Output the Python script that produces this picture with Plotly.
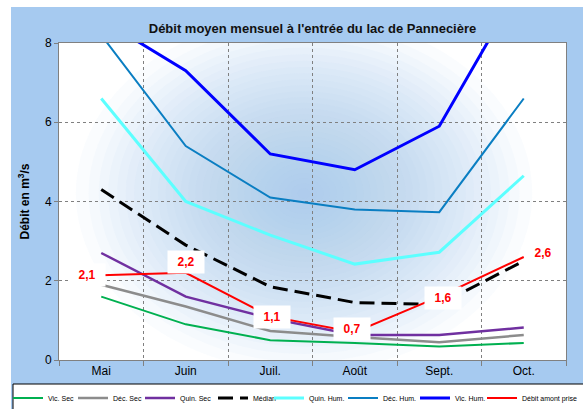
import plotly.graph_objects as go

# ---------------- data ----------------
months = ["Mai", "Juin", "Juil.", "Août", "Sept.", "Oct."]
vic_sec = [1.6, 0.9, 0.5, 0.43, 0.34, 0.43]
dec_sec = [1.9, 1.35, 0.73, 0.58, 0.45, 0.63]
quin_sec = [2.7, 1.6, 1.05, 0.63, 0.63, 0.82]
median = [4.3, 2.9, 1.85, 1.45, 1.4, 2.5]
quin_hum = [6.6, 4.0, 3.15, 2.42, 2.72, 4.65]
dec_hum = [8.2, 5.4, 4.1, 3.8, 3.73, 6.6]
vic_hum = [8.6, 7.3, 5.2, 4.8, 5.9, 9.6]
debit_amont = [2.14, 2.2, 1.1, 0.7, 1.6, 2.6]
y_ticks = [0, 2, 4, 6, 8]

series_names = ["Vic. Sec", "Déc. Sec", "Quin. Sec", "Médian", "Quin. Hum.",
                "Déc. Hum.", "Vic. Hum.", "Débit amont prise"]
series_values = [vic_sec, dec_sec, quin_sec, median, quin_hum, dec_hum, vic_hum, debit_amont]

# ---------------- style ----------------
FONT = "Arial, Liberation Sans, Helvetica, sans-serif"
W, H = 583, 409
ML, MR, MT, MB = 59, 17, 43, 49
PW, PH = W - ML - MR, H - MT - MB

def px_x(p):
    return (p - ML) / PW

def px_y(p):
    return (H - MB - p) / PH

colors = ["#00B050", "#8C8C8C", "#7030A0", "#000000", "#5CFFFF", "#0A7EC2", "#0000FF", "#FF0000"]
widths = [2, 2.5, 2.5, 3, 3, 2, 3, 2]
dashes = ["solid", "solid", "solid", "15px,7px", "solid", "solid", "solid", "solid"]
# pixel position where each legend entry's text starts
legend_text_x = [48, 113, 180, 253, 309, 383, 455, 522]

fig = go.Figure()
legend_layouts = {}
for i, (name, vals, c, w, d, tx) in enumerate(zip(series_names, series_values, colors, widths, dashes, legend_text_x)):
    lg = "legend" if i == 0 else f"legend{i + 1}"
    fig.add_trace(go.Scatter(
        x=months, y=vals, name=name, mode="lines",
        line=dict(color=c, width=w, dash=d),
        legend=lg, hoverinfo="skip",
    ))
    legend_layouts[lg] = dict(
        orientation="h", x=px_x(tx - 40), xanchor="left", y=px_y(398), yanchor="middle",
        bgcolor="rgba(0,0,0,0)", borderwidth=0,
        font=dict(family=FONT, size=7, color="#000000"),
        itemwidth=30, itemclick=False, itemdoubleclick=False,
    )

# labels for the red series
label_dx = [-14, 0, 2, -3, 4, 19]
label_dy = [0, 11, -1, 3, -1, 4]
for m, v, dx, dy in zip(months, debit_amont, label_dx, label_dy):
    fig.add_annotation(
        x=m, y=v, xref="x", yref="y",
        text="<b>" + f"{v:.1f}".replace(".", ",") + "</b>",
        showarrow=False, xshift=dx, yshift=dy,
        font=dict(family=FONT, size=12, color="#FF0000"),
        bgcolor="#FFFFFF", borderpad=3, width=30, height=16,
    )

shapes = []
# white margins outside the blue frame
shapes.append(dict(type="rect", xref="paper", yref="paper", layer="below",
                   x0=px_x(-20), x1=px_x(11), y0=px_y(430), y1=px_y(-20),
                   fillcolor="#FFFFFF", line=dict(width=0)))
shapes.append(dict(type="rect", xref="paper", yref="paper", layer="below",
                   x0=px_x(-20), x1=px_x(600), y0=px_y(7), y1=px_y(-20),
                   fillcolor="#FFFFFF", line=dict(width=0)))
# soft blue glow in the plot area
N = 30
cx, cy = 2.4, 4.2
rx, ry = 2.7, 4.5
for k in range(N):
    f = 1 - (k / N) ** 0.85
    shapes.append(dict(type="circle", xref="x", yref="y", layer="below",
                       x0=cx - rx * f, x1=cx + rx * f, y0=cy - ry * f, y1=cy + ry * f,
                       fillcolor="rgba(160,196,236,0.055)", line=dict(width=0)))
# legend frame
shapes.append(dict(type="rect", xref="paper", yref="paper", layer="below",
                   x0=px_x(13), x1=px_x(610), y0=px_y(430), y1=px_y(384),
                   fillcolor="#FFFFFF", line=dict(color="#000000", width=1)))

fig.update_layout(
    width=W, height=H,
    margin=dict(l=ML, r=MR, t=MT, b=MB, autoexpand=False, pad=0),
    paper_bgcolor="#A6CAF0",
    plot_bgcolor="#FFFFFF",
    font=dict(family=FONT, size=12, color="#000000"),
    title=dict(
        text="<b>Débit moyen mensuel à l'entrée du lac de Pannecière</b>",
        font=dict(family=FONT, size=13, color="#111111"),
        x=px_x((ML + W - MR) / 2), xref="paper", xanchor="center",
        y=1 - 28 / H, yref="container", yanchor="middle",
    ),
    showlegend=True,
    shapes=shapes,
    **legend_layouts,
)

fig.update_xaxes(
    type="category", range=[-0.5, len(months) - 0.5],
    tickson="boundaries", ticks="outside", ticklen=5, tickcolor="#808080",
    showgrid=True, gridcolor="#808080", griddash="dot", gridwidth=1,
    showline=True, linecolor="#808080", linewidth=1, mirror=True,
    tickfont=dict(family=FONT, size=12, color="#000000"),
    zeroline=False, fixedrange=True,
)
fig.update_yaxes(
    range=[0, 8], tickvals=y_ticks, ticktext=[str(t) for t in y_ticks],
    ticks="outside", ticklen=4, tickcolor="#808080",
    showgrid=True, gridcolor="#808080", griddash="dot", gridwidth=1,
    showline=True, linecolor="#808080", linewidth=1, mirror=True,
    zeroline=False, fixedrange=True,
    tickfont=dict(family=FONT, size=12, color="#000000"),
    title=dict(text="<b>Débit en m<sup>3</sup>/s</b>", standoff=12,
               font=dict(family=FONT, size=12, color="#000000")),
)

fig.write_html("out.html", config={"displayModeBar": False},
               post_script="document.body.style.margin='0';")
